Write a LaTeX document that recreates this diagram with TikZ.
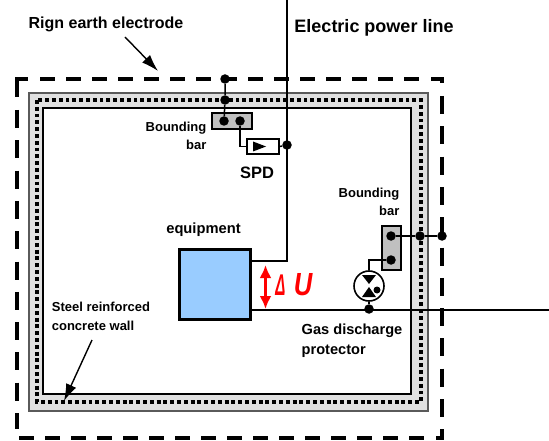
\documentclass[tikz,border=0pt]{standalone}
\usepackage{fontspec}
\setmainfont{Liberation Sans}
\usetikzlibrary{arrows.meta}
\definecolor{band}{RGB}{224,224,224}
\definecolor{bandedge}{RGB}{90,90,90}
\definecolor{barfill}{RGB}{192,192,192}
\definecolor{eqblue}{RGB}{153,204,255}
\tikzset{
  x=1pt,y=-1pt,
  wire/.style={draw=black,line width=1.5pt},
  dotnode/.style={circle,fill=black,inner sep=0pt,minimum size=9.5pt},
  lbl/.style={align=center,inner sep=0pt},
  pointer/.style={draw=black,line width=1.4pt,-{Latex[length=17pt,width=11pt]}},
  barbox/.style={draw=black,fill=barfill,line width=1.6pt},
  tri/.style={fill=black},
  ringh/.style={black,line width=4pt,dash pattern=on 15pt off 11pt},
  ringv/.style={black,line width=4pt,dash pattern=on 18pt off 12.3pt},
  ringc/.style={black,line width=4pt}
}
\newcommand{\bfs}[2]{\bfseries\fontsize{#1}{#2}\selectfont}
\begin{document}
\begin{tikzpicture}
\useasboundingbox (0,0) rectangle (549,441);
% wall band
\path[fill=band,draw=bandedge,line width=1.5pt,even odd rule]
  (29,93) rectangle (428,411) (43,108) rectangle (411,394);
\draw[black,line width=1.5pt] (43,108) rectangle (411,394);
\draw[black,line width=3.8pt,dash pattern=on 3.9pt off 2.9pt] (37,100) rectangle (421,402);
% ring electrode
\draw[ringc] (17,97) -- (17,79) -- (28,79);
\draw[ringh] (40,79) -- (420,79);
\draw[ringc] (431,79) -- (442,79) -- (442,83);
\draw[ringv] (17,110) -- (17,429);
\draw[ringv] (442,96) -- (442,418);
\draw[ringc] (442,429) -- (442,438) -- (436,438);
\draw[ringh] (19,438) -- (425,438);
% coordinates and dots
\node[dotnode] (ringtop) at (225,79) {};
\node[dotnode] (walltop) at (225,100) {};
\draw[barbox] (212,113) rectangle (252,129);
\node[dotnode] (barA) at (224,121) {};
\node[dotnode] (barB) at (240,121) {};
\draw[wire] (ringtop) -- (walltop) -- (barA);
% power line
\coordinate (linetop) at (287,0);
\coordinate (lineend) at (287,261);
\node[draw=black,fill=eqblue,line width=2.4pt,minimum width=71pt,minimum height=70pt,inner sep=0pt] (equip) at (215,284.5) {};
\draw[wire] (linetop) -- (lineend) -- (equip.east |- lineend);
\coordinate (lowend) at (549,310);
\draw[wire] (equip.east |- lowend) -- (lowend);
% SPD
\node[draw=black,fill=white,line width=1.6pt,minimum width=32pt,minimum height=15pt,inner sep=0pt] (spd) at (263,146.5) {};
\fill[tri] (253,141.5) -- (266,146.5) -- (253,151.5) -- cycle;
\node[dotnode] (spddot) at (287,145) {};
\draw[wire] (barB) |- (spd.west);
\draw[wire] (spd.east) -- (spddot);
% right bar
\draw[barbox] (382,226) rectangle (401,270);
\node[dotnode] (barC) at (391,236) {};
\node[dotnode] (barD) at (391,260) {};
\node[dotnode] (wallright) at (420,236) {};
\node[dotnode] (ringright) at (442,236) {};
\draw[wire] (barC) -- (wallright) -- (ringright);
% gas protector
\node[draw=black,fill=white,circle,line width=1.6pt,minimum size=30pt,inner sep=0pt] (gdt) at (369,286) {};
\fill[tri] (362,275) -- (376,275) -- (369,284) -- cycle;
\fill[tri] (362,297) -- (376,297) -- (369,287) -- cycle;
\node[circle,fill=black,inner sep=0pt,minimum size=7pt] (gdtdot) at (377,290) {};
\node[dotnode] (lowdot) at (369,309) {};
\draw[wire] (barD) -| (gdt.north);
\draw[wire] (gdt.south) -- (lowdot);
% voltage arrow
\coordinate (ua) at (265.5,265);
\coordinate (ub) at (265.5,309);
\draw[red,line width=3pt,{Latex[length=13pt,width=12pt]}-{Latex[length=13pt,width=12pt]}] (ua) -- (ub);
\node[red,inner sep=0pt,font=\bfseries\itshape\fontsize{30}{32}\selectfont] (du) at (280.5,285.5) {\scalebox{0.5}[1]{Δ}};
\node[red,inner sep=0pt,font=\bfseries\itshape\fontsize{32}{34}\selectfont] (uu) at (303,285) {\scalebox{0.8}[1]{U}};
% labels
\node[lbl,font=\bfs{16}{18}] (ringlbl) at (106,24) {Rign earth electrode};
\coordinate (ringtip) at (158,71);
\draw[pointer] (125,37) -- (ringtip);
\node[lbl,font=\bfs{18}{20}] (powerlbl) at (374,28) {Electric power line};
\node[lbl,align=right,font=\bfs{13}{17.5}] (b1) at (176,136) {Bounding\\bar};
\node[lbl,font=\bfs{16.5}{18}] (spdlbl) at (257,173) {SPD};
\node[lbl,font=\bfs{14.7}{16}] (eqlbl) at (203.5,230) {equipment};
\node[lbl,align=right,font=\bfs{13}{17.5}] (b2) at (369,202) {Bounding\\bar};
\node[lbl,align=left,font=\bfs{14.6}{20}] (gaslbl) at (352,341) {Gas discharge\\protector};
\node[lbl,align=left,font=\bfs{13}{19}] (steellbl) at (101,316) {Steel reinforced\\concrete wall};
\coordinate (steeltip) at (64,401);
\draw[pointer] (92,340) -- (steeltip);
\end{tikzpicture}
\end{document}
